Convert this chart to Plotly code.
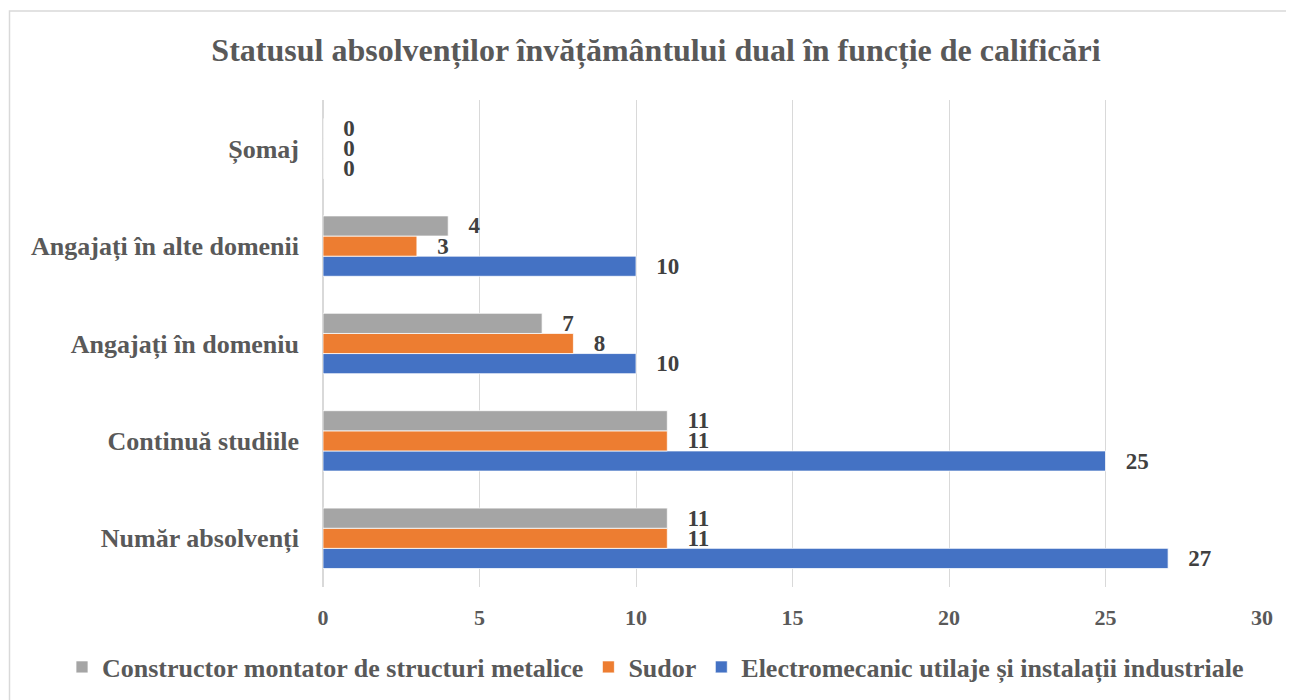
import plotly.graph_objects as go

categories = ["Număr absolvenți", "Continuă studiile", "Angajați în domeniu",
              "Angajați în alte domenii", "Șomaj"]
electromecanic = [27, 25, 10, 10, 0]
sudor = [11, 11, 8, 3, 0]
constructor = [11, 11, 7, 4, 0]

series = [
    ("Electromecanic utilaje și instalații industriale", electromecanic, "#4472C4"),
    ("Sudor", sudor, "#ED7D31"),
    ("Constructor montator de structuri metalice", constructor, "#A5A5A5"),
]

FONT = "Liberation Serif"
OFF = 8  # browser body margin
L, T = 323 - OFF, 100 - OFF
PW, PH = 939, 487
fig = go.Figure()
for name, vals, color in series:
    fig.add_trace(go.Bar(
        y=categories, x=vals, name="<b>" + name + "</b>", orientation="h",
        marker=dict(color=color, line=dict(color="white", width=0.75)),
        texttemplate="\u00a0\u00a0\u00a0<b>%{x}</b>", textposition="outside",
        constraintext="none",
        textfont=dict(family=FONT, size=23, color="#404040"),
        cliponaxis=False,
    ))

def px_x(px):
    return (px - OFF - L) / PW

def px_y(py):
    return (T + PH - (py - OFF)) / PH

fig.update_layout(
    width=1294, height=700,
    margin=dict(l=L, r=1294 - L - PW, t=T, b=700 - T - PH, autoexpand=False),
    paper_bgcolor="white", plot_bgcolor="white",
    barmode="group", bargap=0.38, bargroupgap=0,
    title=dict(text="<b>Statusul absolvenților învățământului dual în funcție de calificări</b>",
               x=(656 - OFF) / 1294, xref="container", xanchor="center",
               y=1 - (50 - OFF) / 700, yanchor="middle",
               font=dict(family=FONT, size=32, color="#595959")),
    font=dict(family=FONT, color="#595959"),
    xaxis=dict(range=[0, 30], dtick=5, showgrid=True, gridcolor="#D9D9D9", gridwidth=1,
               zeroline=True, zerolinecolor="#D9D9D9", showline=False,
               tickfont=dict(family=FONT, size=22, color="#595959"),
               tickprefix="<b>", ticksuffix="</b>", ticklabelstandoff=15),
    yaxis=dict(categoryorder="array", categoryarray=categories, showgrid=False,
               showline=False, zeroline=False,
               tickfont=dict(family=FONT, size=26, color="#595959"),
               tickprefix="<b>", ticksuffix="</b>", ticklabelstandoff=23),
    legend=dict(orientation="h", x=px_x(62), xref="paper", xanchor="left",
                y=px_y(667), yref="paper", yanchor="middle",
                traceorder="reversed",
                font=dict(family=FONT, size=26, color="#595959"),
                itemwidth=30, tracegroupgap=0, bgcolor="rgba(0,0,0,0)"),
)

fig.add_shape(type="rect", xref="paper", yref="paper",
              x0=px_x(9.5), x1=px_x(1310),
              y0=px_y(720), y1=px_y(11),
              line=dict(color="#D9D9D9", width=1.5), fillcolor="rgba(0,0,0,0)", layer="below")

fig.write_html("out.html")
